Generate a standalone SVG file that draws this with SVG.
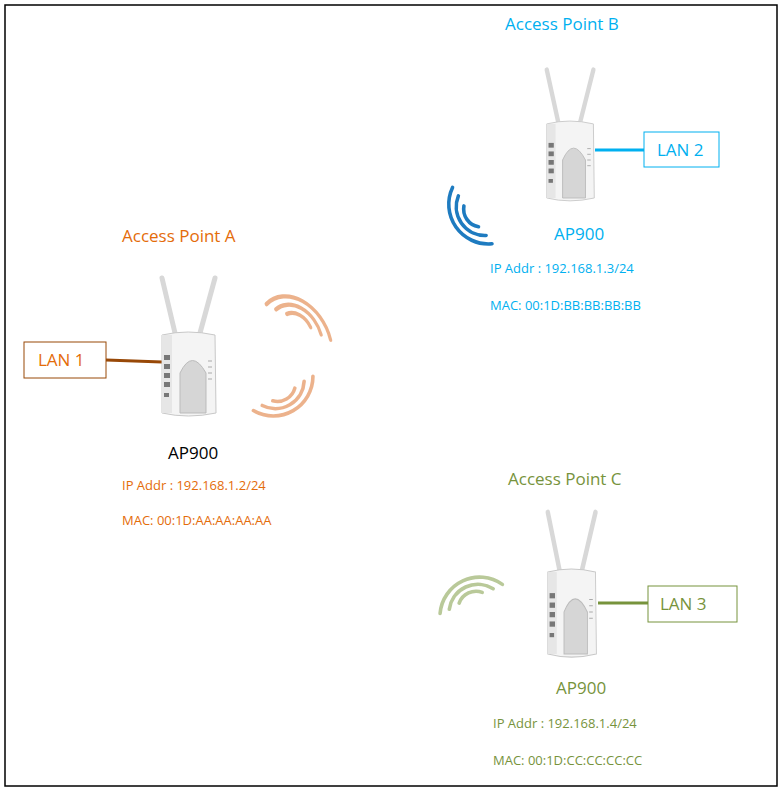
<svg xmlns="http://www.w3.org/2000/svg" width="782" height="791" viewBox="0 0 782 791">
<style>
text{font-family:"Open Sans","Liberation Sans",sans-serif}
.t{font-size:17px}.s{font-size:13px}
.o{fill:#E46C0A}.b{fill:#00B0F0}.g{fill:#77933C}
</style>
<defs>
<g id="dev">
<path d="M15 0 L2 -55" stroke="#d8d8d8" stroke-width="5" stroke-linecap="round"/>
<path d="M40 0 L55 -55" stroke="#d8d8d8" stroke-width="5" stroke-linecap="round"/>
<path d="M2 2 Q28 -4 55 2 L56 80 Q28 86 2 80 Z" fill="#f4f4f4" stroke="#c8c8c8"/>
<rect x="2" y="2" width="10" height="78" fill="#e6e6e6"/>
<g fill="#777"><rect x="4" y="22" width="6" height="5"/><rect x="4" y="31" width="6" height="5"/><rect x="4" y="40" width="6" height="5"/><rect x="4" y="49" width="6" height="5"/><rect x="4" y="60" width="5" height="4"/></g>
<path d="M20 80 L20 40 Q32 15 46 40 L46 80 Z" fill="#d6d6d6" stroke="#bbb"/>
<g stroke="#aaa"><path d="M48 28h4M48 34h4M48 40h4M48 46h4"/></g>
</g>
<g id="wave" fill="none" stroke-width="4" stroke-linecap="round">
<path d="M0 20 A20 20 0 0 0 20 0"/><path d="M-10 28 A32 32 0 0 0 28 -10"/><path d="M-18 36 A44 44 0 0 0 36 -18"/>
</g>
</defs>
<rect x="5" y="5" width="772" height="781" fill="#fff" stroke="#000" stroke-width="1.5"/>
<g id="connectors">
<line x1="106" y1="360" x2="162" y2="362" stroke="#984807" stroke-width="3"/>
<line x1="595" y1="150" x2="644" y2="150" stroke="#00B0F0" stroke-width="3"/>
<line x1="598" y1="603" x2="648" y2="603" stroke="#77933C" stroke-width="3"/>
</g>
<g id="apA">
<text class="t o" x="122" y="242">Access Point A</text>
<use href="#dev" transform="translate(160,333)"/>
<use href="#wave" stroke="#E8A070" opacity="0.8" transform="translate(300,314) rotate(245) scale(1.1,0.8) translate(-15,-15)"/>
<use href="#wave" stroke="#E8A070" opacity="0.8" transform="translate(287,400) rotate(15) scale(0.9) translate(-15,-15)"/>
<text class="t" x="168" y="459" fill="#000">AP900</text>
<text class="s o" x="122" y="490">IP Addr : 192.168.1.2/24</text>
<text class="s o" x="122" y="525">MAC: 00:1D:AA:AA:AA:AA</text>
</g>
<g id="lan1"><rect x="24" y="342" width="82" height="36" fill="#fff" stroke="#984807"/><text class="t o" x="38" y="366">LAN 1</text></g>
<g id="apB">
<text class="t b" x="505" y="30">Access Point B</text>
<use href="#dev" transform="translate(545,122) scale(0.88,0.95)"/>
<use href="#wave" stroke="#1E7BC0" transform="translate(466,220) rotate(100) scale(0.9) translate(-15,-15)"/>
<text class="t b" x="554" y="240">AP900</text>
<text class="s b" x="490" y="273">IP Addr : 192.168.1.3/24</text>
<text class="s b" x="490" y="310">MAC: 00:1D:BB:BB:BB:BB</text>
</g>
<g id="lan2"><rect x="644" y="132" width="75" height="35" fill="#fff" stroke="#00B0F0"/><text class="t b" x="657" y="156">LAN 2</text></g>
<g id="apC">
<text class="t g" x="508" y="485">Access Point C</text>
<use href="#dev" transform="translate(546,570) scale(0.9,1.05)"/>
<use href="#wave" stroke="#A8BC80" opacity="0.8" transform="translate(468,592) rotate(200) scale(0.9) translate(-15,-15)"/>
<text class="t g" x="556" y="694">AP900</text>
<text class="s g" x="493" y="728">IP Addr : 192.168.1.4/24</text>
<text class="s g" x="493" y="765">MAC: 00:1D:CC:CC:CC:CC</text>
</g>
<g id="lan3"><rect x="648" y="586" width="89" height="36" fill="#fff" stroke="#77933C"/><text class="t g" x="660" y="610">LAN 3</text></g>
</svg>
